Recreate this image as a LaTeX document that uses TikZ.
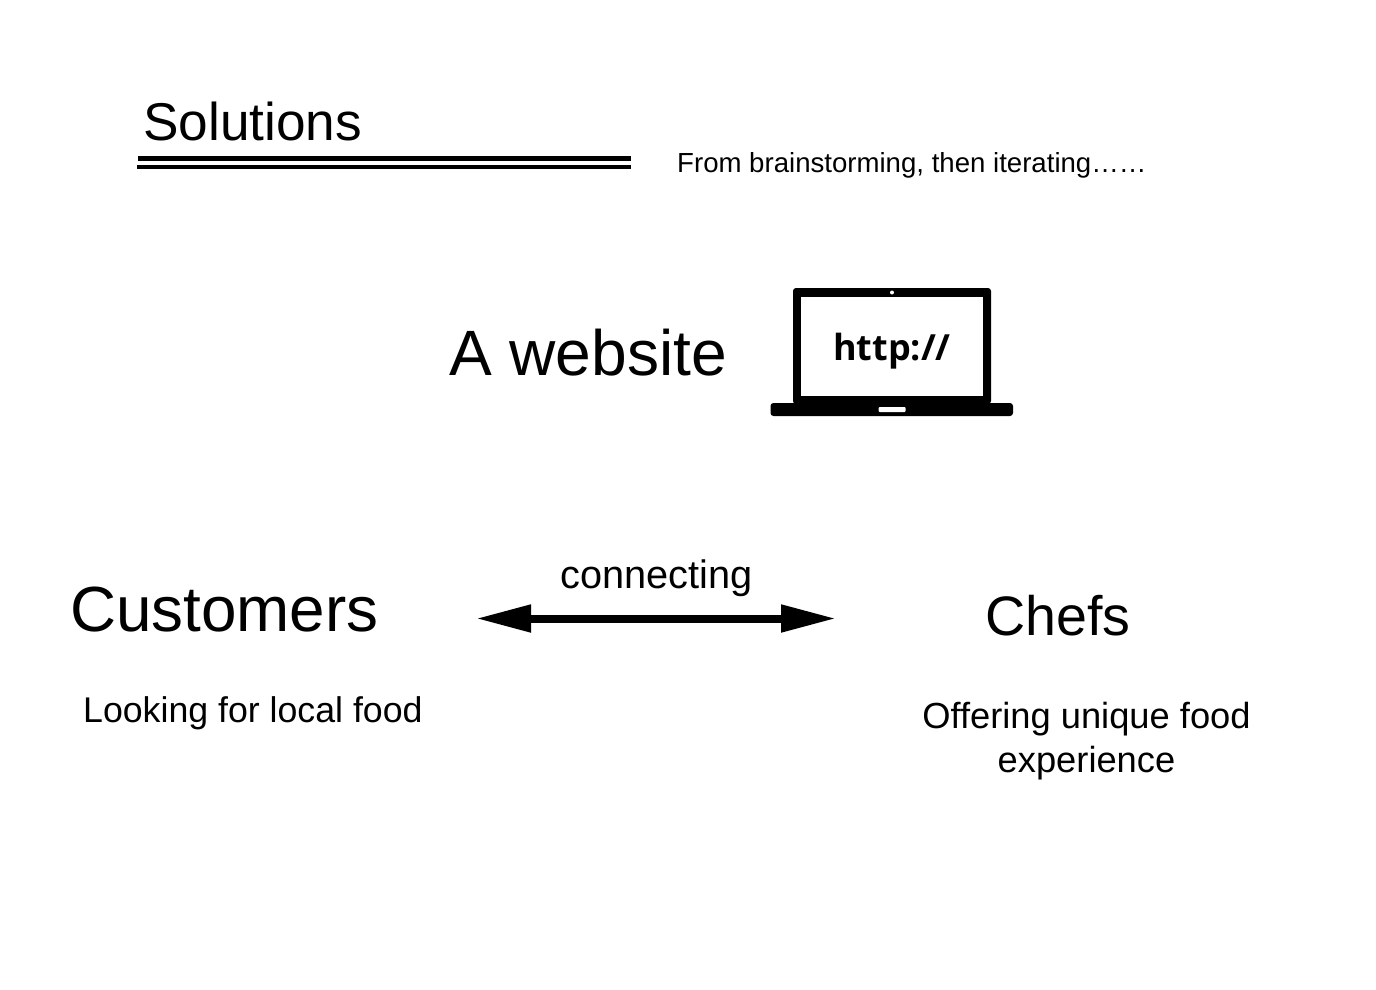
\documentclass[tikz,border=0pt]{standalone}
\usepackage{fontspec}
\setmainfont{Liberation Sans}
\newfontfamily\urlfont{Open Sans}
\usetikzlibrary{arrows.meta}
\newcommand{\fsize}[1]{\fontsize{#1}{#1}\selectfont}
\tikzset{
	txt/.style={anchor=base west, inner sep=0pt, text=black},
	rule/.style={line width=4.5pt},
	link/.style={line width=8pt, {Triangle[length=55pt,width=26pt]}-{Triangle[length=55pt,width=26pt]}, shorten <=0pt, shorten >=0pt}
}

\begin{document}
\begin{tikzpicture}[x=1pt,y=-1pt]
		\useasboundingbox (0,0) rectangle (1376,990);
		\coordinate (ruleAL) at (138,158.5);
		\coordinate (ruleAR) at (631,158.5);
		\coordinate (ruleBL) at (137,167);
		\coordinate (ruleBR) at (631,167);
		\coordinate (linkL) at (476,618.5);
		\coordinate (linkR) at (836,618.5);
		
		% heading
		\node[txt, font=\fsize{53.2}] (solutions) at (143,140) {Solutions};
		\draw[rule] (ruleAL) -- (ruleAR);
		\draw[rule] (ruleBL) -- (ruleBR);
		\node[txt, font=\fsize{27.6}] (iterating) at (677,172) {From brainstorming, then iterating……};
		
		% website and laptop
		\node[txt, font=\fsize{64.1}] (website) at (449,375) {A website};
		\fill[rounded corners=3pt] (793,288) rectangle (991,404);
		\fill[rounded corners=3pt] (770.5,403) rectangle (1013,416);
		\fill[white] (801,297) rectangle (983,396);
		\fill[white] (892,292.5) circle (2);
		\fill[white, rounded corners=1pt] (878.5,407) rectangle (905.5,412);
		\node[font=\urlfont\bfseries\fsize{36}, inner sep=0pt] (http) at (892,351) {http://};
		
		% the two sides
		\node[txt, font=\fsize{63.8}] (customers) at (70,631) {Customers};
		\node[txt, font=\fsize{55.6}] (chefs) at (985,635) {Chefs};
		\node[txt, font=\fsize{39.7}] (connecting) at (560.5,588) {connecting};
		\draw[link] (linkL) -- (linkR);
		\node[txt, font=\fsize{35.7}] (looking) at (83,722) {Looking for local food};
		\node[align=center, inner sep=0pt, font=\fontsize{36.3}{44}\selectfont] (offering) at (1086.5,741) {Offering unique food\\experience};
	\end{tikzpicture}
\end{document}
